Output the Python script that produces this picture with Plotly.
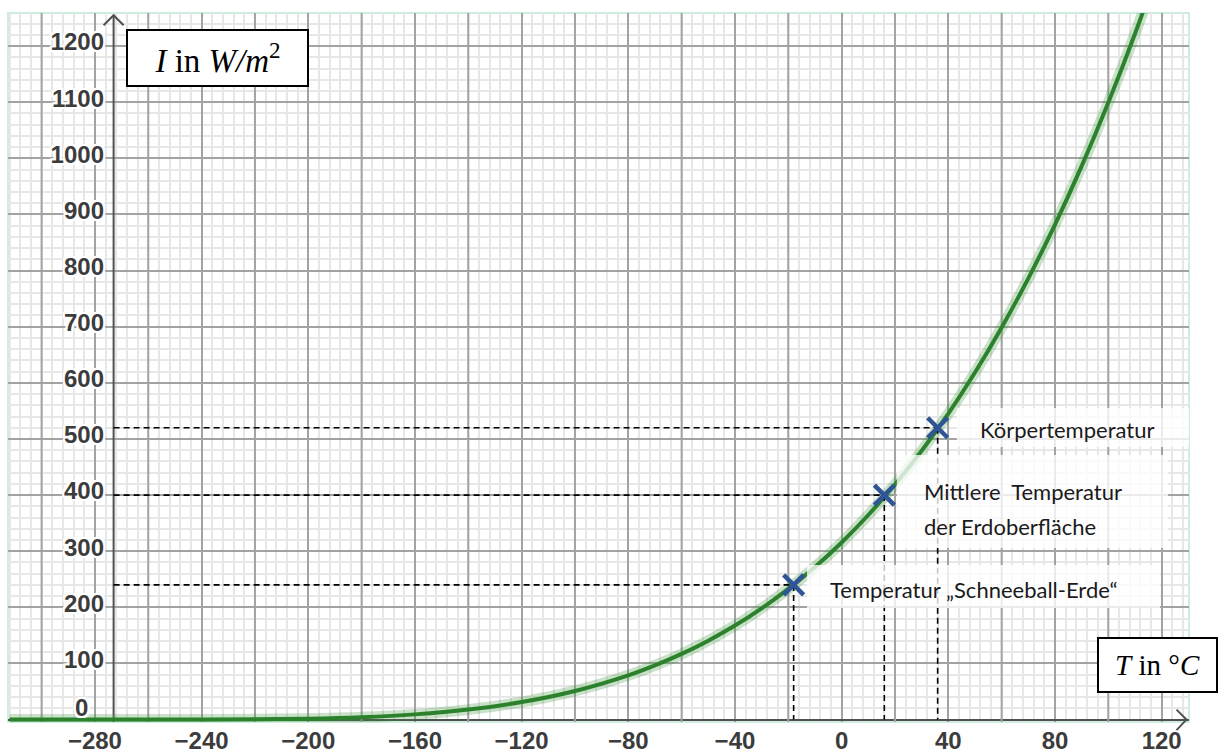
import plotly.graph_objects as go

# ---------------- data ----------------
T_CURVE = [-312, -290, -273, -260, -240, -220, -200, -180, -160, -140, -120, -100,
           -80, -70, -60, -50, -40, -30, -20, -10, 0, 10, 20, 30, 40, 50, 60, 70,
           80, 90, 100, 110, 120]
I_CURVE = [0, 0, 0, 0, 0.1, 0.5, 1.6, 4.3, 9.3, 17.8, 31.2, 51.0,
           78.9, 96.6, 117.0, 140.6, 167.5, 198.2, 232.9, 271.9, 315.6, 364.5, 418.7, 478.9, 545.2, 618.3, 698.5, 786.2,
           881.9, 986.1, 1099.3, 1222.0, 1354.8]

POINT_T = [-18, 16, 36]
POINT_I = [240, 400, 520]
POINT_LABELS = ["Temperatur \u201eSchneeball-Erde\u201c", "Mittlere  Temperatur", "K\u00f6rpertemperatur"]

X_TICKS = list(range(-280, 121, 40))
X_TICK_TEXT = ["\u2212" + str(abs(v)) if v < 0 else str(v) for v in X_TICKS]
X_GRID_EXTRA = list(range(-300, 121, 40))     # unlabelled major grid lines
Y_TICKS = list(range(100, 1201, 100))

AXIS_T = -273          # y axis drawn at absolute zero
X_RANGE = [-312.6, 130.25]
Y_RANGE = [-4.3, 1258.9]

W, H = 1219, 753
ML, MR, MT, MB = 8, 30, 13, 31
PW, PH = W - ML - MR, H - MT - MB

def to_paper(t, i, dx=0.0, dy=0.0):
    xp = (t - X_RANGE[0]) / (X_RANGE[1] - X_RANGE[0]) + dx / PW
    yp = (i - Y_RANGE[0]) / (Y_RANGE[1] - Y_RANGE[0]) - dy / PH
    return xp, yp

GREEN = "rgb(44,130,44)"
BLUE = "#2f5597"
AXIS_COL = "#505050"
LABEL_COL = "#3c3c3c"
MAJOR_GRID = "#a3a3a3"
MINOR_GRID = "#e7e7e7"
halo = ",".join(f"{a}px {b}px 0 #fff" for a in (-2, 0, 2) for b in (-2, 0, 2) if (a, b) != (0, 0))

fig = go.Figure()

# unlabelled major grid lines (every 20 between the labelled ones)
for g in X_GRID_EXTRA:
    fig.add_shape(type="line", x0=g, x1=g, y0=Y_RANGE[0], y1=Y_RANGE[1], line=dict(color=MAJOR_GRID, width=2), layer="between")

# curve halo + curve
fig.add_trace(go.Scatter(x=T_CURVE, y=I_CURVE, mode="lines", line=dict(color="rgba(60,150,60,0.28)", width=11, shape="spline"),
                         hoverinfo="skip", showlegend=False))
fig.add_trace(go.Scatter(x=T_CURVE, y=I_CURVE, mode="lines", line=dict(color=GREEN, width=4, shape="spline"),
                         showlegend=False))

# dashed helper lines
for t, i in zip(POINT_T, POINT_I):
    fig.add_trace(go.Scatter(x=[AXIS_T, t], y=[i, i], mode="lines",
                             line=dict(color="black", width=1.6, dash="6px,4px"), hoverinfo="skip", showlegend=False))
    fig.add_trace(go.Scatter(x=[t, t], y=[i, 0], mode="lines",
                             line=dict(color="black", width=1.6, dash="6px,4px"), hoverinfo="skip", showlegend=False))

# y axis line at absolute zero
fig.add_shape(type="line", x0=AXIS_T, x1=AXIS_T, y0=Y_RANGE[0], y1=1255, line=dict(color=AXIS_COL, width=2), layer="between")

# label boxes (semi transparent white)
BOXES = [(-13.0, 119.4, 198.8, 275.4), (20.7, 122.4, 305.7, 471.4), (43.2, 130.25, 485.8, 555.3)]
for x0, x1, y0, y1 in BOXES:
    fig.add_shape(type="rect", x0=x0, x1=x1, y0=y0, y1=y1, line=dict(width=0),
                  fillcolor="rgba(255,255,255,0.78)", layer="above")

# markers
fig.add_trace(go.Scatter(x=POINT_T, y=POINT_I, mode="markers",
                         marker=dict(symbol="x-thin", size=20, line=dict(color=BLUE, width=4.5)),
                         showlegend=False))

# arrow heads (paper coords, not clipped)
tx, ty = to_paper(AXIS_T, 1255)
ax1, ay1 = to_paper(AXIS_T, 1255, -10, 10)
ax2, ay2 = to_paper(AXIS_T, 1255, 10, 10)
fig.add_shape(type="path", xref="paper", yref="paper",
              path=f"M {ax1},{ay1} L {tx},{ty} L {ax2},{ay2}", line=dict(color=AXIS_COL, width=2))
tx, ty = to_paper(X_RANGE[1], 0, -2.5, 0)
ax1, ay1 = to_paper(X_RANGE[1], 0, -12.5, -10)
ax2, ay2 = to_paper(X_RANGE[1], 0, -12.5, 10.5)
fig.add_shape(type="path", xref="paper", yref="paper",
              path=f"M {ax1},{ay1} L {tx},{ty} L {ax2},{ay2}", line=dict(color=AXIS_COL, width=2))

# plot border (light green)
fig.add_shape(type="rect", xref="paper", yref="paper", x0=0, x1=1, y0=0, y1=1,
              line=dict(color="#cdeedd", width=2), layer="below")

# text labels
TXT_FONT = dict(family="Lato, Open Sans, sans-serif", size=22, color="#1a1a1a")
fig.add_annotation(x=-5.1, y=230.9, text=POINT_LABELS[0], showarrow=False, xanchor="left", yanchor="middle", font=TXT_FONT)
fig.add_annotation(x=30.0, y=405.5, text=POINT_LABELS[1], showarrow=False, xanchor="left", yanchor="middle", font=TXT_FONT)
fig.add_annotation(x=30.0, y=344.9, text="der Erdoberfl\u00e4che", showarrow=False, xanchor="left", yanchor="middle", font=TXT_FONT)
fig.add_annotation(x=51.1, y=516.8, text=POINT_LABELS[2], showarrow=False, xanchor="left", yanchor="middle", font=TXT_FONT)

# axis title boxes
SERIF = dict(family="Liberation Serif, Times New Roman, serif", size=33, color="black")
fig.add_annotation(x=-234.1, y=1178.7, text="<i>I</i> in <i>W/m</i><sup>2</sup>", showarrow=False,
                   xanchor="center", yanchor="middle", font=SERIF, bgcolor="white", bordercolor="black",
                   borderwidth=2, borderpad=1, width=177, height=52)
fig.add_annotation(x=118.4, y=96.4, text="<i>T</i> in \u00b0<i>C</i>", showarrow=False,
                   xanchor="center", yanchor="middle", font=dict(SERIF, size=29), bgcolor="white", bordercolor="black",
                   borderwidth=2, borderpad=1, width=115, height=50)

# "0" label of the y axis (raised above the axis)
fig.add_annotation(x=-282, y=0, yshift=12, text="0", showarrow=False, xanchor="right", yanchor="middle",
                   font=dict(family="Liberation Sans, Arial, sans-serif", size=24, color=LABEL_COL, weight="bold", shadow=halo))

fig.update_layout(
    width=W, height=H,
    margin=dict(l=ML, r=MR, t=MT, b=MB, pad=0, autoexpand=False),
    paper_bgcolor="white", plot_bgcolor="white",
    showlegend=False,
    xaxis=dict(range=X_RANGE, tickmode="array", tickvals=X_TICKS, ticktext=X_TICK_TEXT, automargin=False,
               showgrid=True, gridcolor=MAJOR_GRID, gridwidth=2, zeroline=False, showline=False,
               ticks="", ticklabelstandoff=2,
               tickfont=dict(family="Liberation Sans, Arial, sans-serif", size=24, color=LABEL_COL, weight="bold"),
               minor=dict(tickmode="linear", tick0=0, dtick=4, showgrid=True, gridcolor=MINOR_GRID, gridwidth=1.5, ticks="")),
    yaxis=dict(range=Y_RANGE, tickmode="array", tickvals=Y_TICKS, automargin=False,
               anchor="free", position=(95 - ML + 9) / PW, side="left",
               showgrid=True, gridcolor=MAJOR_GRID, gridwidth=2,
               zeroline=True, zerolinecolor=AXIS_COL, zerolinewidth=2, showline=False, ticks="",
               ticklabelshift=-4,
               tickfont=dict(family="Liberation Sans, Arial, sans-serif", size=24, color=LABEL_COL, weight="bold", shadow=halo),
               minor=dict(tickmode="linear", tick0=0, dtick=20, showgrid=True, gridcolor=MINOR_GRID, gridwidth=1.5, ticks="")),
)

fig.write_html("out.html", config={"displayModeBar": False}, post_script="document.body.style.margin='0';")
